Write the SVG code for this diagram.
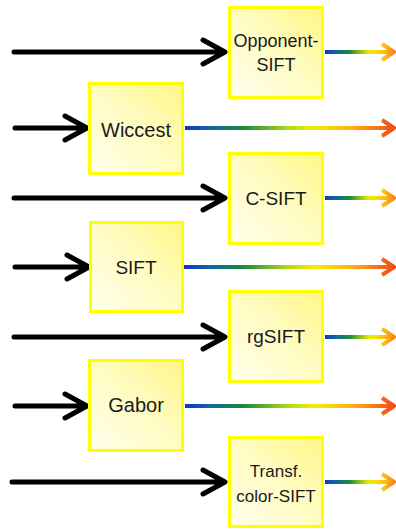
<svg xmlns="http://www.w3.org/2000/svg" width="396" height="529" viewBox="0 0 396 529">
  <defs>
    <linearGradient id="boxFill" x1="1" y1="0" x2="0" y2="1">
      <stop offset="0" stop-color="#fff787"/>
      <stop offset="0.5" stop-color="#fffcc4"/>
      <stop offset="1" stop-color="#fffeee"/>
    </linearGradient>
    <linearGradient id="rampLong" x1="0" y1="0" x2="1" y2="0">
      <stop offset="0" stop-color="#1a30c8"/>
      <stop offset="0.12" stop-color="#1066a0"/>
      <stop offset="0.28" stop-color="#1a8a3c"/>
      <stop offset="0.5" stop-color="#b8d818"/>
      <stop offset="0.62" stop-color="#f5ee00"/>
      <stop offset="0.8" stop-color="#ffb010"/>
      <stop offset="1" stop-color="#f24a1c"/>
    </linearGradient>
    <linearGradient id="rampShort" x1="0" y1="0" x2="1" y2="0">
      <stop offset="0" stop-color="#1a30c8"/>
      <stop offset="0.15" stop-color="#1066a0"/>
      <stop offset="0.35" stop-color="#1a8a3c"/>
      <stop offset="0.65" stop-color="#f0ee00"/>
      <stop offset="0.85" stop-color="#ffc010"/>
      <stop offset="1" stop-color="#f7861c"/>
    </linearGradient>
  </defs>
  <style>
    .box { fill: url(#boxFill); stroke: #ffff00; stroke-width: 3; }
    .lbl { font-family: "Liberation Sans", Arial, sans-serif; font-size: 19px; fill: #1a1a1a; text-anchor: middle; }
    .in { fill: none; stroke: #000; stroke-width: 5; stroke-linecap: round; stroke-linejoin: round; }
    .outL { fill: none; stroke: url(#rampLong); stroke-width: 4; stroke-linecap: butt; stroke-linejoin: round; }
    .outS { fill: none; stroke: url(#rampShort); stroke-width: 4; stroke-linecap: butt; stroke-linejoin: round; }
  </style>

  <!-- connectors: black inputs, colour-ramp outputs -->
  <g id="connectors">
    <path class="in" d="M14 52 H224 M203 40 L225 52 L203 64"/>
    <path class="in" d="M15 128 H86 M65 116 L87 128 L65 140"/>
    <path class="in" d="M14 198 H224 M203 186 L225 198 L203 210"/>
    <path class="in" d="M15 267 H88 M67 255 L89 267 L67 279"/>
    <path class="in" d="M14 337 H224 M203 325 L225 337 L203 349"/>
    <path class="in" d="M15 406 H86 M65 394 L87 406 L65 418"/>
    <path class="in" d="M12 482 H224 M203 470 L225 482 L203 494"/>

    <path class="outS" d="M325 52 H393 M382 44 L394 52 L382 60"/>
    <path class="outL" d="M185 128 H393 M382 120 L394 128 L382 136"/>
    <path class="outS" d="M325 198 H393 M382 190 L394 198 L382 206"/>
    <path class="outL" d="M184 267 H393 M382 259 L394 267 L382 275"/>
    <path class="outS" d="M325 337 H393 M382 329 L394 337 L382 345"/>
    <path class="outL" d="M185 406 H393 M382 398 L394 406 L382 414"/>
    <path class="outS" d="M325 482 H393 M382 474 L394 482 L382 490"/>
  </g>

  <g id="opponent-sift">
    <rect class="box" x="229.5" y="7.5" width="93" height="90"/>
    <text class="lbl" x="276" y="47" style="font-size:18px">Opponent-</text>
    <text class="lbl" x="276" y="71" style="font-size:18px">SIFT</text>
  </g>
  <g id="wiccest">
    <rect class="box" x="89.5" y="83.5" width="93" height="90"/>
    <text class="lbl" x="136" y="137" style="font-size:20px">Wiccest</text>
  </g>
  <g id="c-sift">
    <rect class="box" x="229.5" y="153.5" width="93" height="90"/>
    <text class="lbl" x="276" y="205">C-SIFT</text>
  </g>
  <g id="sift">
    <rect class="box" x="90.5" y="222.5" width="92" height="89"/>
    <text class="lbl" x="136" y="274">SIFT</text>
  </g>
  <g id="rgsift">
    <rect class="box" x="229.5" y="291.5" width="93" height="90"/>
    <text class="lbl" x="276" y="343">rgSIFT</text>
  </g>
  <g id="gabor">
    <rect class="box" x="89.5" y="360.5" width="93" height="90"/>
    <text class="lbl" x="136" y="412" style="font-size:20px">Gabor</text>
  </g>
  <g id="transf-color-sift">
    <rect class="box" x="229.5" y="437.5" width="93" height="89"/>
    <text class="lbl" x="276" y="477" style="font-size:17px">Transf.</text>
    <text class="lbl" x="276" y="502" style="font-size:17px">color-SIFT</text>
  </g>
</svg>
